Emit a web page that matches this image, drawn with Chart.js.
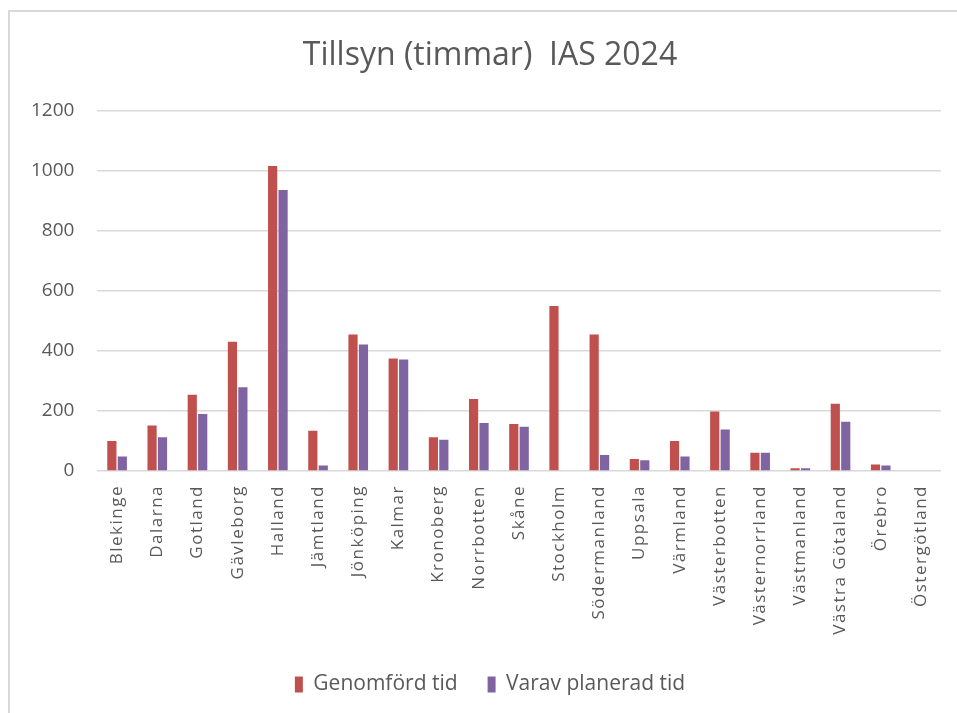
<!DOCTYPE html>
<html>
<head>
<meta charset="utf-8">
<script src="https://cdn.jsdelivr.net/npm/chart.js@4.4.1/dist/chart.umd.min.js"></script>
<style>
  html, body { margin: 0; padding: 0; background: #fff; overflow: hidden; }
  #ram { position: absolute; left: 8px; top: 10px; width: 1000px; height: 800px;
         border-top: 2px solid #d9d9d9; border-left: 2px solid #d9d9d9; }
  #box { position: absolute; left: 0; top: 0; width: 957px; height: 713px; }
</style>
</head>
<body>
<div id="ram"></div>
<div id="box"><canvas id="myChart"></canvas></div>
<script>
const lan = ['Blekinge', 'Dalarna', 'Gotland', 'Gävleborg', 'Halland', 'Jämtland', 'Jönköping',
  'Kalmar', 'Kronoberg', 'Norrbotten', 'Skåne', 'Stockholm', 'Södermanland', 'Uppsala',
  'Värmland', 'Västerbotten', 'Västernorrland', 'Västmanland', 'Västra Götaland', 'Örebro', 'Östergötland'];
const genomford = [100, 151, 254, 430, 1015, 134, 454, 374, 112, 240, 156, 549, 454, 40, 100, 198, 61, 9, 224, 22, 0];
const planerad = [48, 112, 190, 279, 935, 18, 421, 371, 104, 160, 147, 0, 53, 36, 48, 138, 61, 9, 164, 18, 0];
const yTicks = [0, 200, 400, 600, 800, 1000, 1200];

const grå = '#595959';
const ctx = document.getElementById('myChart');

// lite luft mellan bokstäverna i länsnamnen (ritas efter staplarna)
const spärrning = {
  id: 'sparrning',
  afterDatasetsDraw(chart) { chart.ctx.letterSpacing = '1.5px'; },
  afterDraw(chart) { chart.ctx.letterSpacing = '0px'; }
};

new Chart(ctx, {
  type: 'bar',
  data: {
    labels: lan,
    datasets: [
      { label: 'Genomförd tid', data: genomford, backgroundColor: '#c0504d' },
      { label: 'Varav planerad tid', data: planerad, backgroundColor: '#8064a2' }
    ]
  },
  plugins: [spärrning],
  options: {
    responsive: true,
    maintainAspectRatio: false,
    animation: false,
    categoryPercentage: 0.52,
    barPercentage: 0.88,
    layout: { padding: { left: 39, right: 16, top: 37, bottom: 8 } },
    plugins: {
      title: {
        display: true,
        text: 'Tillsyn (timmar)  IAS 2024',
        color: grå,
        font: { family: 'Open Sans', size: 32, weight: 'normal' },
        padding: { top: 0, bottom: 35 }
      },
      legend: {
        position: 'bottom',
        labels: {
          color: grå,
          font: { family: 'Open Sans', size: 21 },
          boxWidth: 8,
          boxHeight: 16,
          padding: 30
        }
      },
      tooltip: { enabled: false }
    },
    scales: {
      x: {
        grid: { display: false },
        border: { display: false },
        ticks: {
          color: grå,
          font: { family: 'Open Sans', size: 17 },
          maxRotation: 90,
          minRotation: 90,
          autoSkip: false,
          padding: 6,
          z: 1
        },
        afterFit: (axis) => { axis.height = 173; }
      },
      y: {
        min: 0,
        max: 1200,
        afterBuildTicks: (axis) => { axis.ticks = yTicks.map(v => ({ value: v })); },
        grid: { color: '#d9d9d9', lineWidth: 1.5, drawTicks: false },
        border: { display: false },
        ticks: {
          color: grå,
          font: { family: 'Open Sans', size: 19 },
          // mirror + negativ padding: etiketterna hamnar till vänster om axeln utan att klippas
          mirror: true,
          crossAlign: 'far',
          padding: -66,
          callback: (v) => String(v)
        },
        afterFit: (axis) => { axis.width = 58; }
      }
    }
  }
});
</script>
</body>
</html>
